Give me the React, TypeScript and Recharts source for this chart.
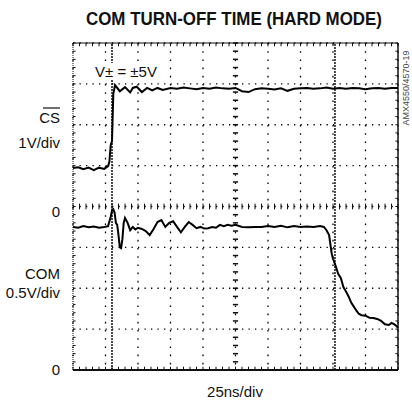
import { LineChart, Line, XAxis, YAxis, CartesianGrid, ReferenceLine } from 'recharts';

// time in ns (25ns/div), level in screen divisions (0..8)
const csTime = [0, 4, 8, 12, 16, 20, 24, 27, 28, 29, 30, 31, 32.3, 36, 40, 44, 46, 49, 53, 57, 61, 65, 69, 75, 80, 85, 90, 95, 100, 105, 110, 115, 120, 125, 130, 135, 140, 145, 150, 155, 160, 165, 170, 175, 180, 185, 190, 195, 200, 205, 210, 215, 220, 225, 230, 235, 240, 245, 250];
const csLevel = [4.94, 4.96, 4.91, 4.95, 4.89, 4.95, 4.92, 4.99, 5.1, 5.5, 5.6, 6.75, 6.97, 6.82, 6.92, 6.79, 6.9, 6.93, 6.8, 6.9, 6.84, 6.9, 6.85, 6.9, 6.88, 6.91, 6.89, 6.87, 6.9, 6.88, 6.91, 6.89, 6.88, 6.9, 6.82, 6.8, 6.87, 6.89, 6.88, 6.86, 6.89, 6.83, 6.88, 6.89, 6.9, 6.88, 6.89, 6.91, 6.88, 6.9, 6.88, 6.9, 6.89, 6.87, 6.89, 6.9, 6.88, 6.9, 6.9];

const comTime = [0, 4, 8, 12, 16, 20, 24, 27, 29, 30, 31, 32, 33, 34, 35, 36, 37, 38, 39, 40, 42, 44, 46, 48, 50, 53, 56, 59, 62, 65, 68, 71, 74, 77, 80, 83, 86, 89, 92, 95, 98, 101, 104, 107, 110, 113, 116, 119, 122, 125, 130, 135, 140, 145, 150, 155, 160, 165, 170, 175, 180, 185, 190, 193, 195, 197, 199, 200, 202, 204, 206, 208, 210, 212, 214, 216, 218, 220, 222, 225, 228, 231, 234, 237, 240, 243, 245, 247, 249, 250];
const comLevel = [3.5, 3.48, 3.52, 3.49, 3.51, 3.48, 3.5, 3.52, 3.75, 3.9, 3.93, 3.85, 3.6, 3.55, 3.3, 3.0, 2.98, 3.2, 3.6, 3.72, 3.6, 3.42, 3.5, 3.44, 3.48, 3.45, 3.4, 3.3, 3.45, 3.62, 3.67, 3.5, 3.6, 3.64, 3.5, 3.37, 3.5, 3.62, 3.55, 3.47, 3.5, 3.46, 3.47, 3.5, 3.48, 3.55, 3.52, 3.55, 3.53, 3.55, 3.5, 3.49, 3.5, 3.5, 3.52, 3.5, 3.53, 3.49, 3.52, 3.5, 3.51, 3.5, 3.52, 3.5, 3.42, 3.3, 2.85, 2.72, 2.55, 2.35, 2.25, 2.03, 1.92, 1.8, 1.65, 1.55, 1.45, 1.37, 1.34, 1.33, 1.28, 1.27, 1.25, 1.2, 1.12, 1.1, 1.15, 1.12, 1.07, 1.03];

const xMajor = [0, 25, 50, 75, 100, 125, 150, 175, 200, 225, 250];
const yMajor = [0, 1, 2, 3, 4, 5, 6, 7, 8];
const cursors = [30, 201.5];

const xMinor = Array.from({ length: 51 }, (_, i) => i * 5);
const yMinor = Array.from({ length: 41 }, (_, i) => i * 0.2);

const csData = csTime.map((t, i) => ({ t, v: csLevel[i] }));
const comData = comTime.map((t, i) => ({ t, v: comLevel[i] }));

const INK = '#111';
const FONT = '"Liberation Sans", Arial, sans-serif';

export default function App() {
  return (
    <div style={{ position: 'absolute', left: 0, top: 0, width: 412, height: 402, background: '#fff' }}>
      <LineChart width={412} height={402} margin={{ top: 43, right: 14, bottom: 32, left: 73 }}>
        <XAxis dataKey="t" type="number" domain={[0, 250]} ticks={xMajor} hide allowDuplicatedCategory={false} />
        <YAxis type="number" domain={[0, 8]} ticks={yMajor} hide />
        <CartesianGrid vertical={false} stroke="#000" strokeWidth={1.3} strokeDasharray="1.3 5.2" />
        <CartesianGrid horizontal={false} stroke="#000" strokeWidth={1.3} strokeDasharray="1.6 6.6" />

        {/* centre cross with minor ticks */}
        {xMinor.map((x) => (
          <ReferenceLine key={'cx' + x} segment={[{ x, y: 3.93 }, { x, y: 4.07 }]} stroke={INK} strokeWidth={1} />
        ))}
        {yMinor.map((y) => (
          <ReferenceLine key={'cy' + y} segment={[{ x: 123, y }, { x: 127, y }]} stroke={INK} strokeWidth={1.5} />
        ))}

        {/* frame ticks */}
        {xMinor.map((x) => (
          <ReferenceLine key={'tt' + x} segment={[{ x, y: 8 }, { x, y: 7.92 }]} stroke={INK} />
        ))}
        {xMinor.map((x) => (
          <ReferenceLine key={'bt' + x} segment={[{ x, y: 0 }, { x, y: 0.08 }]} stroke={INK} />
        ))}
        {yMinor.map((y) => (
          <ReferenceLine key={'lt' + y} segment={[{ x: 0, y }, { x: 2, y }]} stroke={INK} />
        ))}
        {yMinor.map((y) => (
          <ReferenceLine key={'rt' + y} segment={[{ x: 250, y }, { x: 248, y }]} stroke={INK} />
        ))}

        <ReferenceLine y={8} stroke={INK} strokeWidth={1} />
        <ReferenceLine y={0} stroke={INK} strokeWidth={2} />
        <ReferenceLine x={0} stroke={INK} strokeWidth={1} strokeDasharray="1 1" />
        <ReferenceLine x={250} stroke={INK} strokeWidth={1.5} />

        {cursors.map((x) => (
          <ReferenceLine key={'cur' + x} x={x} stroke={INK} strokeWidth={1.5} strokeDasharray="2 1" />
        ))}

        <Line data={csData} dataKey="v" type="linear" stroke="#000" strokeWidth={2} dot={false} isAnimationActive={false} />
        <Line data={comData} dataKey="v" type="linear" stroke="#000" strokeWidth={2} dot={false} isAnimationActive={false} />
      </LineChart>

      <svg width={412} height={402} style={{ position: 'absolute', left: 0, top: 0, pointerEvents: 'none' }} fontFamily={FONT}>
        <text x={234} y={25} textAnchor="middle" fontSize={18} fontWeight="bold" textLength={296} lengthAdjust="spacingAndGlyphs" fill={INK}>
          COM TURN-OFF TIME (HARD MODE)
        </text>
        <rect x={94} y={63} width={65} height={17} fill="#fff" />
        <text x={126} y={77} textAnchor="middle" fontSize={15} fill={INK}>V± = ±5V</text>
        <text x={60} y={123} textAnchor="end" fontSize={15} fill={INK}>CS</text>
        <line x1={43} x2={60} y1={108} y2={108} stroke={INK} strokeWidth={1.2} />
        <text x={60} y={148} textAnchor="end" fontSize={15} fill={INK}>1V/div</text>
        <text x={60} y={217} textAnchor="end" fontSize={15} fill={INK}>0</text>
        <text x={60} y={279} textAnchor="end" fontSize={15} fill={INK}>COM</text>
        <text x={60} y={298} textAnchor="end" fontSize={15} fill={INK}>0.5V/div</text>
        <text x={60} y={375} textAnchor="end" fontSize={15} fill={INK}>0</text>
        <text x={235} y={397} textAnchor="middle" fontSize={15} fill={INK}>25ns/div</text>
        <text x={0} y={0} transform="translate(409 88) rotate(-90)" textAnchor="middle" fontSize={9} fill="#444">AMX4550/4570-19</text>
      </svg>
    </div>
  );
}
